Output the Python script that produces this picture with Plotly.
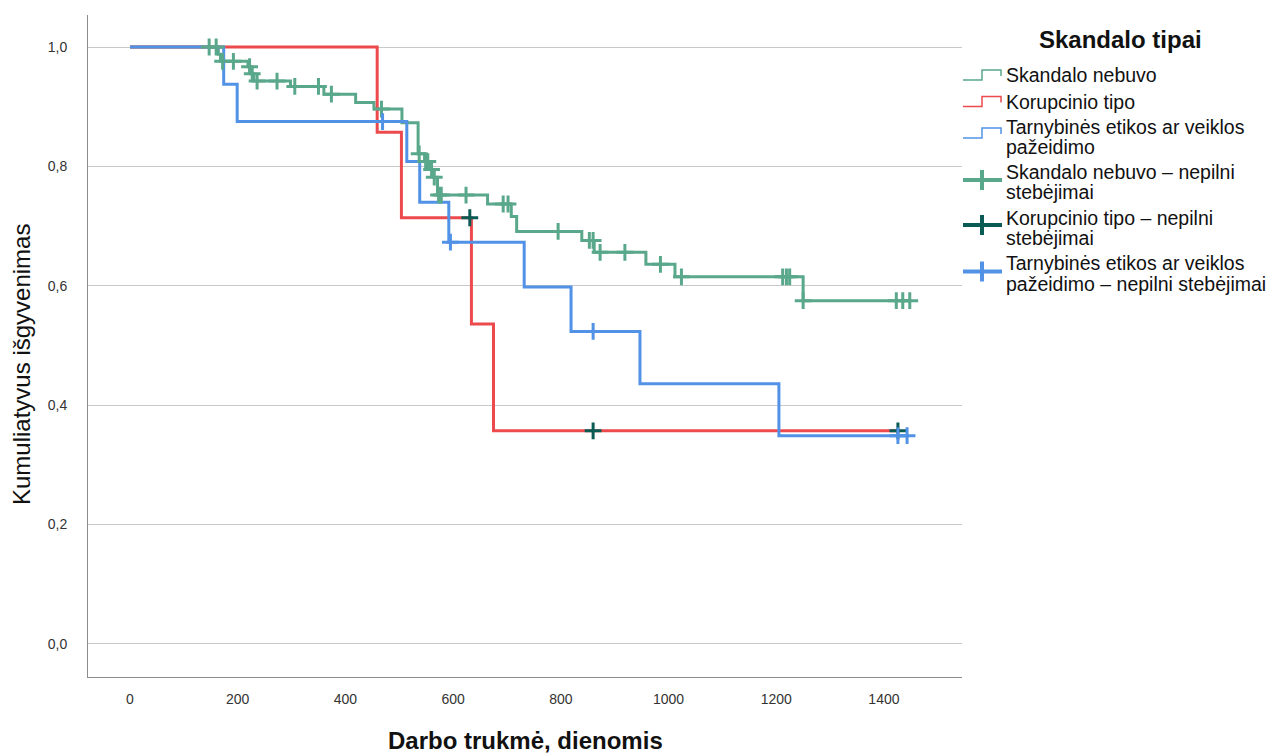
import numpy as np
import plotly.graph_objects as go

# ---------------- data ----------------
# Skandalo nebuvo
green_event_days = [164, 168, 219, 224, 230, 298, 360, 419, 453, 505, 535, 547, 556, 563, 571,
                    664, 708, 718, 839, 862, 958, 1012, 1250]
green_surv = [0.988, 0.976, 0.967, 0.955, 0.943, 0.934, 0.921, 0.907, 0.896, 0.873, 0.821, 0.808,
              0.795, 0.782, 0.752, 0.737, 0.716, 0.691, 0.676, 0.656, 0.636, 0.615, 0.575]
green_censored_days = [147, 160, 172, 192, 222, 227, 236, 273, 306, 350, 374, 467, 537, 549, 553,
                       560, 565, 573, 578, 624, 693, 702, 795, 853, 860, 873, 919, 985, 1024,
                       1212, 1219, 1225, 1250, 1423, 1435, 1448]

# Korupcinio tipo
red_event_days = [459, 504, 634, 675]
red_surv = [0.857, 0.714, 0.536, 0.357]
red_censored_days = [631, 860, 1426]

# Tarnybinės etikos ar veiklos pažeidimo
blue_event_days = [174, 199, 514, 538, 592, 732, 819, 947, 1205]
blue_surv = [0.9375, 0.875, 0.808, 0.740, 0.673, 0.598, 0.5235, 0.436, 0.349]
blue_censored_days = [469, 595, 860, 1426, 1443]

series_names = ["Skandalo nebuvo", "Korupcinio tipo",
                "Tarnybinės etikos ar veiklos pažeidimo"]
censor_names = ["Skandalo nebuvo – nepilni stebėjimai",
                "Korupcinio tipo – nepilni stebėjimai",
                "Tarnybinės etikos ar veiklos pažeidimo – nepilni stebėjimai"]
legend_title = "Skandalo tipai"
# legend text as it is wrapped in the reference
legend_lines = [
    ["Skandalo nebuvo"],
    ["Korupcinio tipo"],
    ["Tarnybinės etikos ar veiklos", "pažeidimo"],
    ["Skandalo nebuvo – nepilni", "stebėjimai"],
    ["Korupcinio tipo – nepilni", "stebėjimai"],
    ["Tarnybinės etikos ar veiklos", "pažeidimo – nepilni stebėjimai"],
]

x_ticks = [0, 200, 400, 600, 800, 1000, 1200, 1400]
y_ticks = [0.0, 0.2, 0.4, 0.6, 0.8, 1.0]
y_ticktext = ["0,0", "0,2", "0,4", "0,6", "0,8", "1,0"]

line_colors = ["#5aa88b", "#ec4a4d", "#5192e6"]
censor_colors = ["#5aa88b", "#0b5b55", "#5192e6"]

# ---------------- helpers ----------------
def step_xy(ev, s, end):
    return [0] + list(ev) + [end], [1.0] + list(s) + [s[-1]]


def surv_at(ev, s, t):
    idx = np.searchsorted(np.array(ev), np.array(t), side="right") - 1
    vals = np.array([1.0] + list(s))
    return vals[idx + 1]


W, H = 1274, 753
ML, MR, MT, MB = 88, 312, 15, 76
PW, PH = W - ML - MR, H - MT - MB


def px(xp):
    return (xp - ML) / PW


def py(yp):
    return (H - MB - yp) / PH


groups = [
    (green_event_days, green_surv, green_censored_days),
    (red_event_days, red_surv, red_censored_days),
    (blue_event_days, blue_surv, blue_censored_days),
]

fig = go.Figure()

# step lines
for (ev, s, cens), name, col in zip(groups, series_names, line_colors):
    x, y = step_xy(ev, s, max(cens) + 3)
    fig.add_trace(go.Scatter(x=x, y=y, mode="lines", line_shape="hv",
                             line=dict(color=col, width=3), name=name,
                             hoverinfo="x+y+name"))

# censor marks
for (ev, s, cens), name, col in zip(groups, censor_names, censor_colors):
    fig.add_trace(go.Scatter(x=cens, y=surv_at(ev, s, cens), mode="markers",
                             marker=dict(symbol="cross-thin", size=12,
                                         line=dict(color=col, width=3)),
                             name=name))

FONT = "Liberation Sans, Arial, sans-serif"

# ---------------- legend drawn in the page margin ----------------
annotations = []
shapes = []
annotations.append(dict(text="<b>" + legend_title + "</b>", xref="paper", yref="paper",
                        x=px(1120), y=py(40), showarrow=False, xanchor="center",
                        yanchor="middle", font=dict(size=24, family=FONT, color="#111111")))
line_y = [[75], [101.5], [126.5, 146.5], [172, 192.5], [217.5, 238], [263, 283.5]]
for lines, ys in zip(legend_lines, line_y):
    for t, yy in zip(lines, ys):
        annotations.append(dict(text=t, xref="paper", yref="paper", x=px(1004), y=py(yy),
                                showarrow=False, xanchor="left", yanchor="middle",
                                font=dict(size=19.5, family=FONT, color="#111111")))

# step icons
for col, yc in zip(line_colors, [75, 101.5, 133]):
    path = (f"M {px(963)},{py(yc + 5)} L {px(982)},{py(yc + 5)} L {px(982)},{py(yc - 5)} "
            f"L {px(1001)},{py(yc - 5)} L {px(1001)},{py(yc + 1)}")
    shapes.append(dict(type="path", xref="paper", yref="paper", path=path,
                       line=dict(color=col, width=1.5)))
# cross icons
for col, yc in zip(censor_colors, [180, 225, 271.5]):
    shapes.append(dict(type="line", xref="paper", yref="paper", x0=px(963), x1=px(1002),
                       y0=py(yc), y1=py(yc), line=dict(color=col, width=4)))
    shapes.append(dict(type="line", xref="paper", yref="paper", x0=px(982), x1=px(982),
                       y0=py(yc - 10), y1=py(yc + 10), line=dict(color=col, width=4)))

# axis titles
annotations.append(dict(text="Kumuliatyvus išgyvenimas", xref="paper", yref="paper",
                        x=px(22), y=py(365), textangle=-90, showarrow=False,
                        xanchor="center", yanchor="middle",
                        font=dict(size=24, family=FONT, color="#111111")))
annotations.append(dict(text="<b>Darbo trukmė, dienomis</b>", xref="paper", yref="paper",
                        x=0.5, y=py(740), showarrow=False, xanchor="center",
                        yanchor="middle", font=dict(size=24, family=FONT, color="#111111")))

fig.update_layout(
    width=W, height=H, autosize=False, showlegend=False,
    margin=dict(l=ML, r=MR, t=MT, b=MB),
    paper_bgcolor="white", plot_bgcolor="white",
    font=dict(family=FONT, color="#222222"),
    xaxis=dict(range=[-78, 1545], tickvals=x_ticks, showgrid=False, zeroline=False,
               showline=True, linecolor="#8c8c8c", linewidth=1, ticks="",
               tickfont=dict(size=14, color="#333333"), ticklabelstandoff=9),
    yaxis=dict(range=[-0.0553, 1.0536], tickvals=y_ticks, ticktext=y_ticktext,
               showgrid=True, gridcolor="#c9c9c9", gridwidth=1, zeroline=False,
               showline=True, linecolor="#8c8c8c", linewidth=1, ticks="",
               tickfont=dict(size=14, color="#333333"), ticklabelstandoff=17),
    annotations=annotations,
    shapes=shapes,
)

fig.write_html("out.html")
